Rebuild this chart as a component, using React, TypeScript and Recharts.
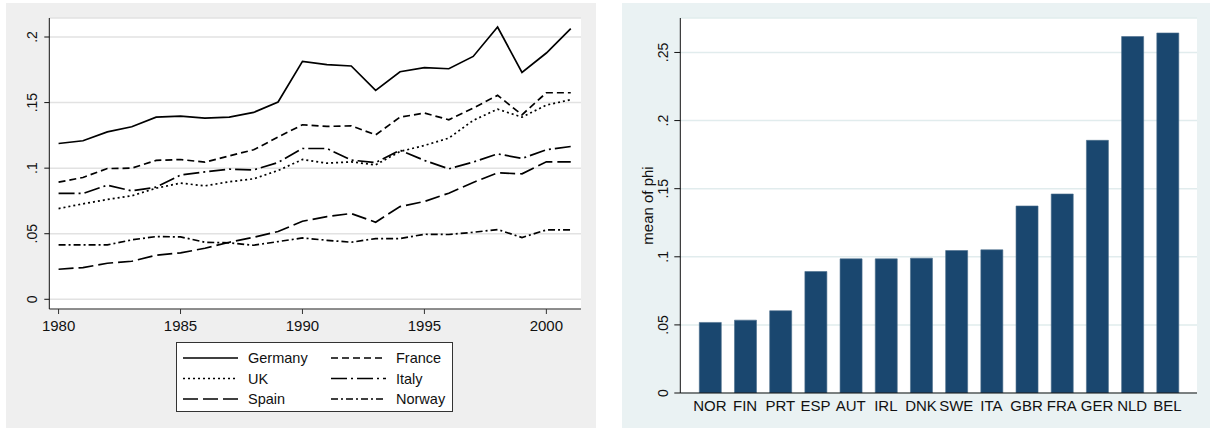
import React from 'react';
import {
  LineChart, Line, BarChart, Bar, XAxis, YAxis, CartesianGrid,
} from 'recharts';

const years = [1980, 1981, 1982, 1983, 1984, 1985, 1986, 1987, 1988, 1989, 1990, 1991, 1992, 1993, 1994, 1995, 1996, 1997, 1998, 1999, 2000, 2001];
const germany = [0.1188, 0.1209, 0.1277, 0.1316, 0.1389, 0.1397, 0.1382, 0.1389, 0.1425, 0.1504, 0.1814, 0.1789, 0.1779, 0.1593, 0.1735, 0.1766, 0.1758, 0.1852, 0.2076, 0.1730, 0.1878, 0.2064];
const france = [0.0893, 0.0929, 0.0997, 0.1000, 0.1059, 0.1066, 0.1046, 0.1094, 0.1140, 0.1237, 0.1331, 0.1318, 0.1323, 0.1254, 0.1389, 0.1420, 0.1369, 0.1458, 0.1555, 0.1407, 0.1575, 0.1575];
const uk = [0.0692, 0.0728, 0.0761, 0.0789, 0.0847, 0.0886, 0.0865, 0.0896, 0.0919, 0.0982, 0.1066, 0.1038, 0.1048, 0.1025, 0.1127, 0.1173, 0.1229, 0.1364, 0.1450, 0.1389, 0.1481, 0.1522];
const italy = [0.0807, 0.0807, 0.0870, 0.0827, 0.0855, 0.0947, 0.0972, 0.0992, 0.0987, 0.1043, 0.1150, 0.1150, 0.1061, 0.1043, 0.1137, 0.1059, 0.0995, 0.1046, 0.1109, 0.1074, 0.1140, 0.1165];
const spain = [0.0229, 0.0242, 0.0275, 0.0290, 0.0336, 0.0354, 0.0389, 0.0435, 0.0473, 0.0517, 0.0595, 0.0631, 0.0654, 0.0588, 0.0707, 0.0746, 0.0809, 0.0891, 0.0964, 0.0957, 0.1048, 0.1048];
const norway = [0.0415, 0.0415, 0.0415, 0.0453, 0.0478, 0.0476, 0.0435, 0.0430, 0.0412, 0.0440, 0.0468, 0.0450, 0.0435, 0.0463, 0.0463, 0.0496, 0.0494, 0.0511, 0.0532, 0.0471, 0.0529, 0.0529];

const lineXTicks = [1980, 1985, 1990, 1995, 2000];
const lineYTicks = [0, 0.05, 0.1, 0.15, 0.2];

const countries = ['NOR', 'FIN', 'PRT', 'ESP', 'AUT', 'IRL', 'DNK', 'SWE', 'ITA', 'GBR', 'FRA', 'GER', 'NLD', 'BEL'];
const phiMeans = [0.0518, 0.0535, 0.0604, 0.0892, 0.0985, 0.0985, 0.0990, 0.1046, 0.1051, 0.1373, 0.1461, 0.1855, 0.2617, 0.2643];
const barYTicks = [0, 0.05, 0.1, 0.15, 0.2, 0.25];

const FONT = '"Liberation Sans", Arial, Helvetica, sans-serif';

const seriesDefs = [
  { key: 'Germany', values: germany, dash: undefined as string | undefined },
  { key: 'France', values: france, dash: '7 4' },
  { key: 'UK', values: uk, dash: '2 3' },
  { key: 'Italy', values: italy, dash: '16 4 2 4' },
  { key: 'Spain', values: spain, dash: '15 5' },
  { key: 'Norway', values: norway, dash: '7 3 2 3' },
];

const lineData = years.map((y, i) => {
  const row: Record<string, number> = { year: y };
  seriesDefs.forEach((s) => { row[s.key] = s.values[i]; });
  return row;
});

const barData = countries.map((c, i) => ({ country: c, phi: phiMeans[i] }));

const fmt = (v: number) => (v === 0 ? '0' : String(v).replace(/^0/, ''));

const makeRotTick = (offset: number) => (props: any) => {
  const { x, y, payload } = props;
  const cx = x - offset;
  return (
    <text
      x={cx}
      y={y}
      transform={`rotate(-90, ${cx}, ${y})`}
      textAnchor="middle"
      dominantBaseline="central"
      fontSize={14}
      fontFamily={FONT}
      fill="#111"
    >
      {fmt(payload.value)}
    </text>
  );
};

const legendRows = [
  ['Germany', 'France'],
  ['UK', 'Italy'],
  ['Spain', 'Norway'],
];

export default function App() {
  const dashOf = (k: string) => seriesDefs.find((s) => s.key === k)!.dash;
  return (
    <div style={{ position: 'absolute', left: 0, top: 0, width: 1210, height: 430, background: '#fff', fontFamily: FONT }}>
      {/* Left panel */}
      <div style={{ position: 'absolute', left: 6, top: 3, width: 590, height: 425, background: '#efefef' }}>
        <LineChart width={590} height={425} data={lineData} margin={{ top: 15, right: 15, bottom: 89, left: 0 }}>
          <CartesianGrid horizontal vertical={false} stroke="#e2e2e2" strokeWidth={1.5} fill="#ffffff" />
          <XAxis
            dataKey="year"
            type="number"
            domain={[1979.62, 2001.42]}
            ticks={lineXTicks}
            allowDataOverflow
            height={30}
            tickSize={5}
            tickMargin={6}
            stroke="#333"
            tick={{ fontSize: 15, fill: '#111', fontFamily: FONT }}
          />
          <YAxis
            type="number"
            domain={[-0.0074, 0.2145]}
            ticks={lineYTicks}
            allowDataOverflow
            width={43.3}
            tickSize={5}
            tickMargin={0}
            stroke="#111"
            tick={makeRotTick(12.6)}
          />
          {seriesDefs.map((s) => (
            <Line
              key={s.key}
              dataKey={s.key}
              type="linear"
              stroke="#000"
              strokeWidth={1.7}
              strokeDasharray={s.dash}
              dot={false}
              activeDot={false}
              isAnimationActive={false}
            />
          ))}
        </LineChart>
        {/* Legend */}
        <div style={{ position: 'absolute', left: 170, top: 339, width: 277, height: 70, background: '#fff', border: '1px solid #333', boxSizing: 'border-box' }}>
          <svg width={275} height={68} style={{ position: 'absolute', left: 0, top: 0 }}>
            {legendRows.map((row, r) => (
              <g key={r}>
                {row.map((k, c) => {
                  const lx = c === 0 ? 6 : 154;
                  const tx = c === 0 ? 71 : 219;
                  const ly = 15 + r * 20.5;
                  return (
                    <g key={k}>
                      <line x1={lx} x2={lx + 55} y1={ly} y2={ly} stroke="#000" strokeWidth={1.7} strokeDasharray={dashOf(k)} />
                      <text x={tx} y={ly} dominantBaseline="central" fontSize={14.5} fontFamily={FONT} fill="#111">{k}</text>
                    </g>
                  );
                })}
              </g>
            ))}
          </svg>
        </div>
      </div>

      {/* Right panel */}
      <div style={{ position: 'absolute', left: 622, top: 3, width: 588, height: 425, background: '#eaf2f3' }}>
        <BarChart width={588} height={425} data={barData} margin={{ top: 15, right: 13, bottom: 0, left: 0 }}>
          <CartesianGrid horizontal vertical={false} stroke="#e1eced" strokeWidth={1.5} fill="#ffffff" />
          <XAxis
            dataKey="country"
            type="category"
            padding={{ left: 12, right: 12 }}
            height={35}
            tickLine={false}
            tickSize={0}
            tickMargin={7}
            stroke="#111"
            interval={0}
            tick={{ fontSize: 15, fill: '#111', fontFamily: FONT }}
          />
          <YAxis
            type="number"
            domain={[0, 0.2753]}
            ticks={barYTicks}
            allowDataOverflow
            width={58.3}
            tickSize={6}
            tickMargin={0}
            stroke="#111"
            tick={makeRotTick(11.6)}
            label={{
              content: (p: any) => {
                const vb = p.viewBox || { x: 0, y: 15, width: 58.3, height: 375 };
                const cx = vb.x + 25.7;
                const cy = vb.y + vb.height / 2;
                return (
                  <text x={cx} y={cy} transform={`rotate(-90, ${cx}, ${cy})`} textAnchor="middle" dominantBaseline="central" fontSize={15} fontFamily={FONT} fill="#111">
                    mean of phi
                  </text>
                );
              },
            }}
          />
          <Bar dataKey="phi" fill="#1a476f" stroke="#4a6d8c" strokeWidth={0.6} barSize={22} isAnimationActive={false} />
        </BarChart>
      </div>
    </div>
  );
}
